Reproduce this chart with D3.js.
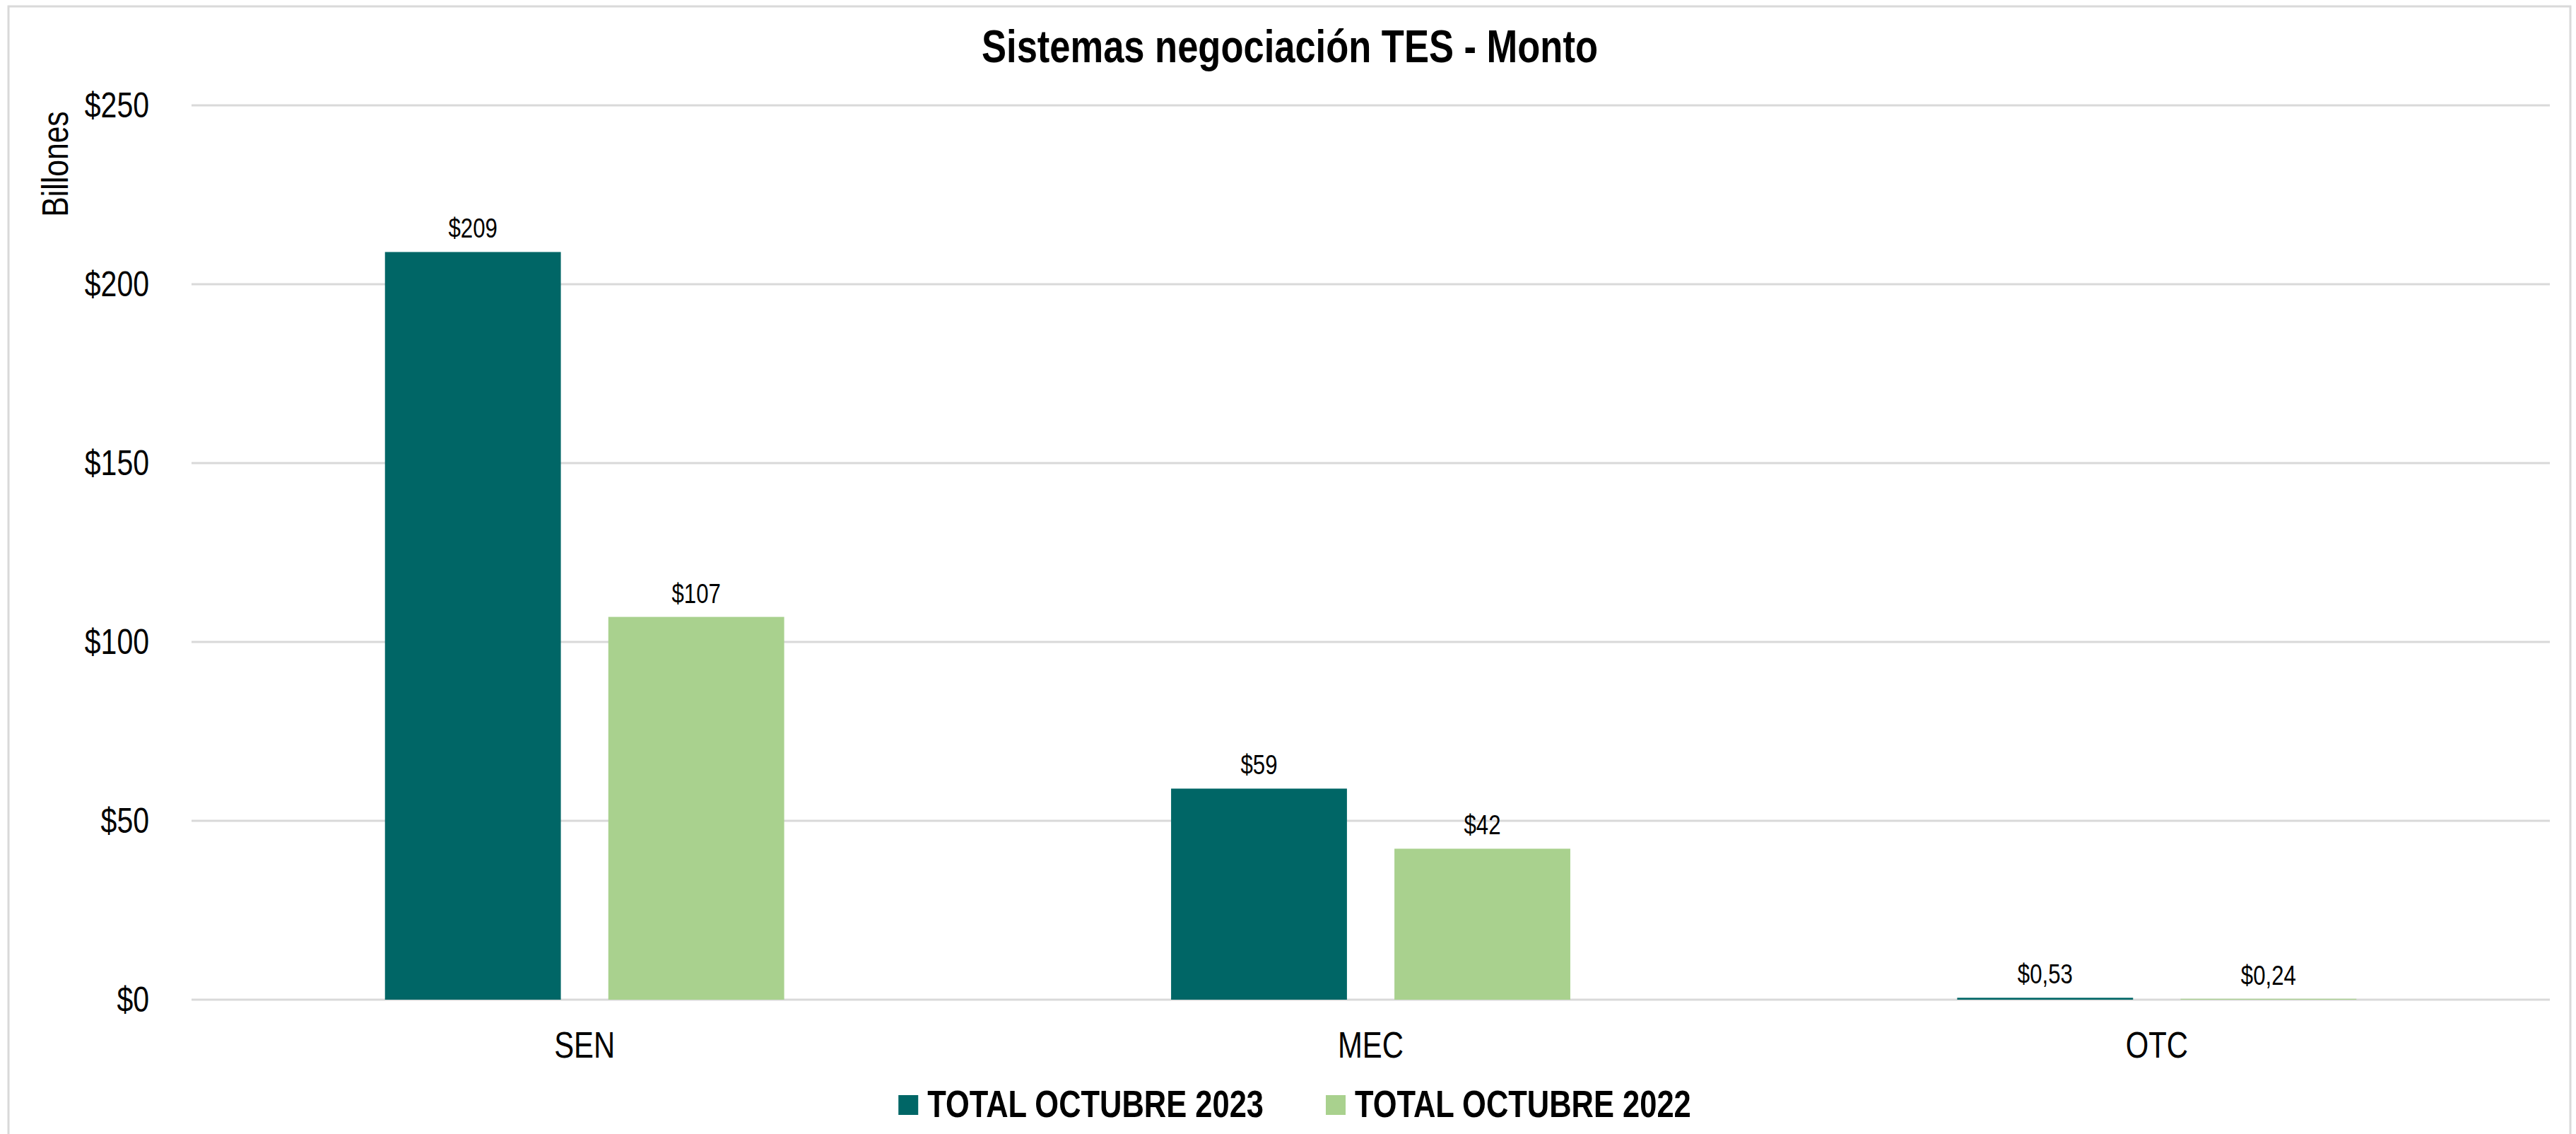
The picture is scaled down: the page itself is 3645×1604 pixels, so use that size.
<!DOCTYPE html>
<html>
<head>
<meta charset="utf-8">
<script src="https://cdn.jsdelivr.net/npm/d3@7"></script>
<style>
  body { margin: 0; background: #fff; }
  text { font-family: "Liberation Sans Narrow", "Arial Narrow", "Liberation Sans", Arial, sans-serif; fill: #000; }
</style>
</head>
<body>
<div id="chart"></div>
<script>
// data
const categories = ['SEN', 'MEC', 'OTC'];
const seriesNames = ['TOTAL OCTUBRE 2023', 'TOTAL OCTUBRE 2022'];
const values2023 = [209, 59, 0.53];
const values2022 = [107, 42.2, 0.24];
const yTicks = [0, 50, 100, 150, 200, 250];

const colors = ['#006666', '#a9d18e'];

const W = 3645, H = 1604;
const plot = { left: 271, right: 3608, top: 149, bottom: 1414 };
const narrow = 0.82; // no Arial Narrow here, so squeeze the regular face

const svg = d3.select('#chart').append('svg')
  .attr('width', W)
  .attr('height', H);

// chart frame
svg.append('rect')
  .attr('x', 12).attr('y', 9)
  .attr('width', 3625).attr('height', 1620)
  .attr('fill', '#fff')
  .attr('stroke', '#d9d9d9')
  .attr('stroke-width', 3);

const x0 = d3.scaleBand()
  .domain(categories)
  .range([plot.left, plot.right])
  .padding(0);

// excel style: gap width 220%, overlap -27%
const gapWidth = 2.2, overlap = -0.27;
const barW = x0.bandwidth() / (seriesNames.length + (seriesNames.length - 1) * -overlap + gapWidth);
const groupW = barW * seriesNames.length + barW * -overlap * (seriesNames.length - 1);

const x1 = d3.scaleBand()
  .domain(seriesNames)
  .range([(x0.bandwidth() - groupW) / 2, (x0.bandwidth() + groupW) / 2])
  .paddingInner(-overlap * barW / (barW * (1 - overlap)));

const y = d3.scaleLinear()
  .domain([0, 250])
  .range([plot.bottom, plot.top]);

const es = d3.formatLocale({ decimal: ',', thousands: '.', grouping: [3], currency: ['$', ''] });
const fmtInt = es.format('$,.0f');
const fmtDec = es.format('$,.2f');
const fmtVal = v => v < 1 ? fmtDec(v) : fmtInt(v);

// gridlines
svg.append('g')
  .selectAll('line')
  .data(yTicks)
  .join('line')
  .attr('x1', plot.left).attr('x2', plot.right)
  .attr('y1', d => y(d)).attr('y2', d => y(d))
  .attr('stroke', '#d9d9d9')
  .attr('stroke-width', 3);

// y axis
const yAxis = svg.append('g')
  .attr('transform', `translate(${plot.left},0)`)
  .call(d3.axisLeft(y).tickValues(yTicks).tickSize(0).tickPadding(60).tickFormat(d => fmtInt(d)));
yAxis.select('.domain').remove();
yAxis.selectAll('text')
  .attr('font-size', 50)
  .attr('font-family', null)
  .attr('fill', '#000');

// y axis title
svg.append('text')
  .attr('transform', 'translate(96,232) rotate(-90)')
  .attr('text-anchor', 'middle')
  .attr('font-size', 52)
  .text('Billones');

// bars
const rows = categories.map((c, i) => ({ cat: c, vals: [values2023[i], values2022[i]] }));

const groups = svg.append('g')
  .selectAll('g')
  .data(rows)
  .join('g')
  .attr('transform', d => `translate(${x0(d.cat)},0)`);

groups.selectAll('rect')
  .data(d => d.vals.map((v, j) => ({ key: seriesNames[j], v, j })))
  .join('rect')
  .attr('x', d => x1(d.key))
  .attr('width', x1.bandwidth())
  .attr('y', d => y(d.v))
  .attr('height', d => y(0) - y(d.v))
  .attr('fill', d => colors[d.j]);

// value labels
groups.selectAll('text.val')
  .data(d => d.vals.map((v, j) => ({ key: seriesNames[j], v, j })))
  .join('text')
  .attr('class', 'val')
  .attr('x', d => x1(d.key) + x1.bandwidth() / 2)
  .attr('y', d => y(d.v) - 20)
  .attr('text-anchor', 'middle')
  .attr('font-size', 38)
  .text(d => fmtVal(d.v));

// category labels
svg.append('g')
  .selectAll('text')
  .data(categories)
  .join('text')
  .attr('x', d => x0(d) + x0.bandwidth() / 2)
  .attr('y', 1496)
  .attr('text-anchor', 'middle')
  .attr('font-size', 51)
  .text(d => d);

// title
svg.append('text')
  .attr('x', 1825)
  .attr('y', 88)
  .attr('text-anchor', 'middle')
  .attr('font-size', 64)
  .attr('font-weight', 'bold')
  .text('Sistemas negociación TES - Monto');

// legend
const legend = svg.append('g');
let lx = 0;
seriesNames.forEach((name, i) => {
  const item = legend.append('g').attr('transform', `translate(${lx},0)`);
  item.append('rect')
    .attr('x', 0).attr('y', 1549)
    .attr('width', 28).attr('height', 28)
    .attr('fill', colors[i]);
  const t = item.append('text')
    .attr('x', 41)
    .attr('y', 1580)
    .attr('font-size', 53)
    .attr('font-weight', 'bold')
    .text(name);
  lx += 41 + t.node().getComputedTextLength() * narrow + 88;
});
const legendW = lx - 88;
legend.attr('transform', `translate(${1832 - legendW / 2},0)`);

// squeeze every label to narrow width
svg.selectAll('text').each(function () {
  const len = this.getComputedTextLength();
  d3.select(this)
    .attr('textLength', len * narrow)
    .attr('lengthAdjust', 'spacingAndGlyphs');
});
</script>
</body>
</html>
